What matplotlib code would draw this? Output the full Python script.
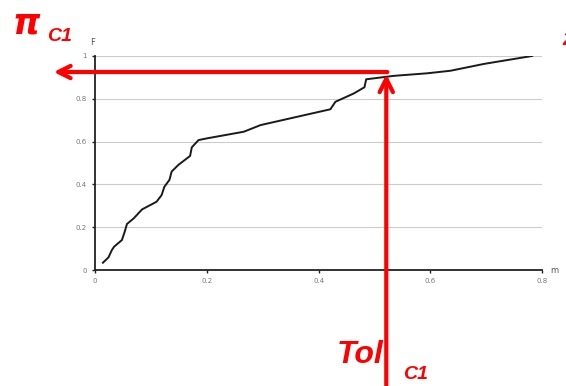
import numpy as np
import matplotlib.pyplot as plt

tol = [0.014, 0.024, 0.030, 0.034, 0.048, 0.053, 0.057, 0.069, 0.084, 0.110,
       0.119, 0.124, 0.133, 0.137, 0.149, 0.170, 0.173, 0.185, 0.200, 0.266,
       0.296, 0.355, 0.421, 0.430, 0.463, 0.482, 0.485, 0.534, 0.594, 0.636,
       0.696, 0.782]
F = [0.034, 0.059, 0.093, 0.109, 0.140, 0.179, 0.215, 0.241, 0.283, 0.319,
     0.350, 0.389, 0.421, 0.460, 0.491, 0.533, 0.573, 0.607, 0.615, 0.646,
     0.677, 0.712, 0.751, 0.786, 0.825, 0.854, 0.891, 0.907, 0.919, 0.931,
     0.963, 1.0]
x_ticks = [0, 0.2, 0.4, 0.6, 0.8]
y_ticks = [0, 0.2, 0.4, 0.6, 0.8, 1]
tol_c1 = 0.521
pi_c1 = 0.925

fig = plt.figure(figsize=(5.66, 3.86), dpi=100)
ax = fig.add_axes([0.168, 0.3005, 0.79, 0.5545])

ax.plot(tol, F, color='#1a1a1a', lw=1.4)
ax.set_xlim(0, 0.8)
ax.set_ylim(0, 1)
ax.set_xticks(x_ticks)
ax.set_xticklabels([f'{t:g}' for t in x_ticks])
ax.set_yticks(y_ticks)
ax.set_yticklabels([f'{t:g}' for t in y_ticks])
ax.tick_params(labelsize=5, colors='#222222', labelcolor='#777777', length=2.5, width=1)
ax.grid(axis='y', color='#cccccc', lw=0.8)
ax.set_axisbelow(True)
for s in ['top', 'right']:
    ax.spines[s].set_visible(False)
for s in ['left', 'bottom']:
    ax.spines[s].set_linewidth(1.3)
    ax.spines[s].set_color('#222222')

ax.text(-0.005, 1.04, 'F', fontsize=6, color='#555555', ha='center', va='bottom')
ax.text(0.815, 0.0, 'm', fontsize=6, color='#555555', ha='left', va='center', clip_on=False)

# red arrows
ax.annotate('', xy=(-0.074, pi_c1), xytext=(tol_c1 + 0.002, pi_c1),
            arrowprops=dict(arrowstyle='->', lw=3, color='red', mutation_scale=22,
                            shrinkA=0, shrinkB=0),
            annotation_clip=False)
ax.annotate('', xy=(tol_c1, pi_c1 - 0.01), xytext=(tol_c1, -0.54),
            arrowprops=dict(arrowstyle='->', lw=3, color='red', mutation_scale=24,
                            shrinkA=0, shrinkB=0),
            annotation_clip=False)

red = '#ff0000'
fig.text(0.022, 0.94, 'π', fontsize=25, color=red, style='italic', fontweight='bold',
         family='DejaVu Sans', va='center')
fig.text(0.083, 0.905, 'C1', fontsize=14, color=red, style='italic', fontweight='bold',
         family='Liberation Sans', va='center')
fig.text(0.595, 0.08, 'Tol', fontsize=23, color=red, style='italic', fontweight='bold',
         family='Liberation Sans', va='center')
fig.text(0.712, 0.03, 'C1', fontsize=14, color=red, style='italic', fontweight='bold',
         family='Liberation Sans', va='center')
fig.text(0.993, 0.895, '2', fontsize=14, color=red, style='italic', fontweight='bold',
         family='Liberation Sans', va='center')

fig.savefig('out.png', dpi=100)
